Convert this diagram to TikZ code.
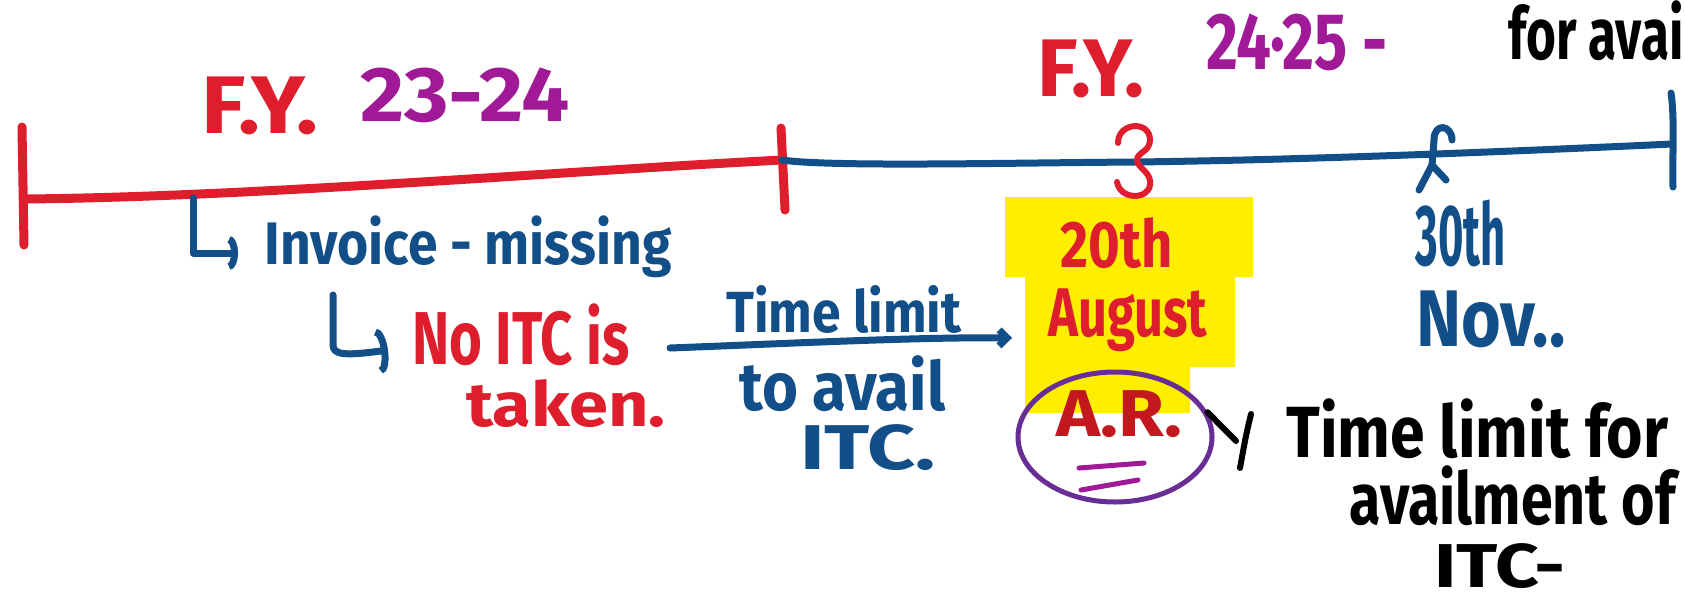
\documentclass[tikz,border=0pt]{standalone}
\usepackage{fontspec}
\setmainfont{Fira Sans}
\usepackage{graphicx}
\usetikzlibrary{arrows.meta,shapes.geometric}

\definecolor{inkred}{RGB}{222,30,45}
\definecolor{inkblue}{RGB}{18,78,135}
\definecolor{inkplum}{RGB}{160,25,150}
\definecolor{inkviolet}{RGB}{105,45,150}
\definecolor{inkmaroon}{RGB}{195,25,30}
\definecolor{marker}{RGB}{255,238,0}

% marker words, stretched to the box they fill: width, height, text
\newcommand{\hand}[3]{\resizebox*{#1pt}{#2pt}{\bfseries #3}}

\tikzset{every picture/.style={line width=0.75pt},
  word/.style={anchor=north west, inner sep=0pt},
  redline/.style={draw=inkred, line width=9pt, line cap=round},
  blueline/.style={draw=inkblue, line width=7pt, line cap=round},
  redpen/.style={draw=inkred, line width=6pt, line cap=round, line join=round},
  bluepen/.style={draw=inkblue, line width=7pt, line cap=round, line join=round},
  blackpen/.style={draw=black, line width=6pt, line cap=round},
  plumpen/.style={draw=inkplum, line width=5pt, line cap=round},
}

\begin{document}
\begin{tikzpicture}[x=1pt,y=1pt,yscale=-1,xscale=1]
        \fill[white] (0,0) rectangle (1685,606);
        \useasboundingbox (0,0) rectangle (1685,606);
        %Highlight behind the date
        \fill[marker] (1005,197) -- (1253,197) -- (1253,277) -- (1235,277) -- (1235,367) -- (1190,367) -- (1190,413) -- (1025,413) -- (1025,277) -- (1005,277) -- cycle ;
        %Timeline F.Y. 23-24
        \draw[redline] (24,199) .. controls (250,197) and (550,172) .. (782,160) ;
        \draw[redline] (22,127) -- (24,245) ;
        \draw[redline] (781,128) -- (785,210) ;
        %Timeline F.Y. 24-25
        \draw[blueline] (782,160) .. controls (830,167) and (1000,163) .. (1135,162) .. controls (1300,160) and (1500,152) .. (1672,144) ;
        \draw[blueline] (1671,93) .. controls (1675,120) and (1672,160) .. (1673,187) ;
        %Marks on the timeline
        \draw[redpen] (1118,143) .. controls (1118,122) and (1150,120) .. (1150,140) .. controls (1150,152) and (1137,152) .. (1137,160) .. controls (1137,168) and (1152,172) .. (1150,185) .. controls (1148,200) and (1120,200) .. (1117,182) ;
        \draw[bluepen] (1452,140) .. controls (1452,125) and (1434,122) .. (1434,140) -- (1432,165) -- (1419,190) (1432,165) -- (1446,180) ;
        % Text Node
        \node[word] (fyA) at (201,76) {\color{inkred}\hand{117}{58}{F.Y.}};
        % Text Node
        \node[word] (yrA) at (360,67) {\color{inkplum}\hand{209}{55}{23-24}};
        % Text Node
        \node[word] (fyB) at (1037,39) {\color{inkred}\hand{107}{58}{F.Y.}};
        % Text Node
        \node[word] (yrB) at (1206,13) {\color{inkplum}\hand{181}{57}{24·25 -}};
        % Text Node
        \node[word] (avai) at (1508,0) {\hand{175}{60}{for avai}};
        % Text Node
        \node[word] (inv) at (264,215) {\color{inkblue}\hand{407}{62}{Invoice - missing}};
        % Text Node
        \node[word] (noitc) at (412,303) {\color{inkred}\hand{217}{62}{No ITC is}};
        % Text Node
        \node[word] (taken) at (466,379) {\color{inkred}\hand{199}{48}{taken.}};
        % Text Node
        \node[word] (limA) at (726,285) {\color{inkblue}\hand{235}{48}{Time limit}};
        % Text Node
        \node[word] (limB) at (739,355) {\color{inkblue}\hand{206}{56}{to avail}};
        % Text Node
        \node[word] (limC) at (800,424) {\color{inkblue}\hand{135}{46}{ITC.}};
        % Text Node
        \node[word] (day) at (1060,217) {\color{inkred}\hand{112}{51}{20th}};
        % Text Node
        \node[word] (month) at (1048,288) {\color{inkred}\hand{159}{63}{August}};
        % Text Node
        \node[word] (ar) at (1056,390) {\color{inkmaroon}\hand{126}{47}{A.R.}};
        % Text Node
        \node[word] (dayB) at (1415,200) {\color{inkblue}\hand{90}{67}{30th}};
        % Text Node
        \node[word] (nov) at (1416,290) {\color{inkblue}\hand{149}{57}{Nov..}};
        % Text Node
        \node[word] (tlA) at (1286,398) {\hand{382}{60}{Time limit for}};
        % Text Node
        \node[word] (tlB) at (1349,465) {\hand{326}{60}{availment of}};
        % Text Node
        \node[word] (tlC) at (1434,543) {\hand{131}{45}{ITC-}};
        %Ring round A.R.
        \node[ellipse, draw=inkviolet, line width=5pt, minimum width=194pt, minimum height=130pt] (ring) at (1115,437) {};
        \draw[plumpen] (1079,468) -- (1144,463) ;
        \draw[plumpen] (1081,490) -- (1138,480) ;
        %Hooks and arrows
        \coordinate (invfoot) at (193,198);
        \coordinate (invtip) at (238,253);
        \draw[bluepen, -{Arc Barb[length=9pt,width=34pt]}] (invfoot) |- (invtip) ;
        \coordinate (itcfoot) at (333,295);
        \coordinate (itctip) at (388,350);
        \draw[bluepen, -{Arc Barb[length=10pt,width=46pt]}] (itcfoot) -- (333,345) .. controls (333,355) and (345,356) .. (itctip) ;
        \coordinate (limS) at (670,348);
        \coordinate (limE) at (1012,338);
        \draw[bluepen, -{Straight Barb[length=8pt,width=16pt]}] (limS) .. controls (800,343) and (920,337) .. (limE) ;
        \coordinate (tlknee) at (1236,441);
        \draw[blackpen] (ring.15) -- (tlknee) ;
        \draw[blackpen] (1251,414) .. controls (1246,435) .. (1240,468) ;
\end{tikzpicture}
\end{document}
